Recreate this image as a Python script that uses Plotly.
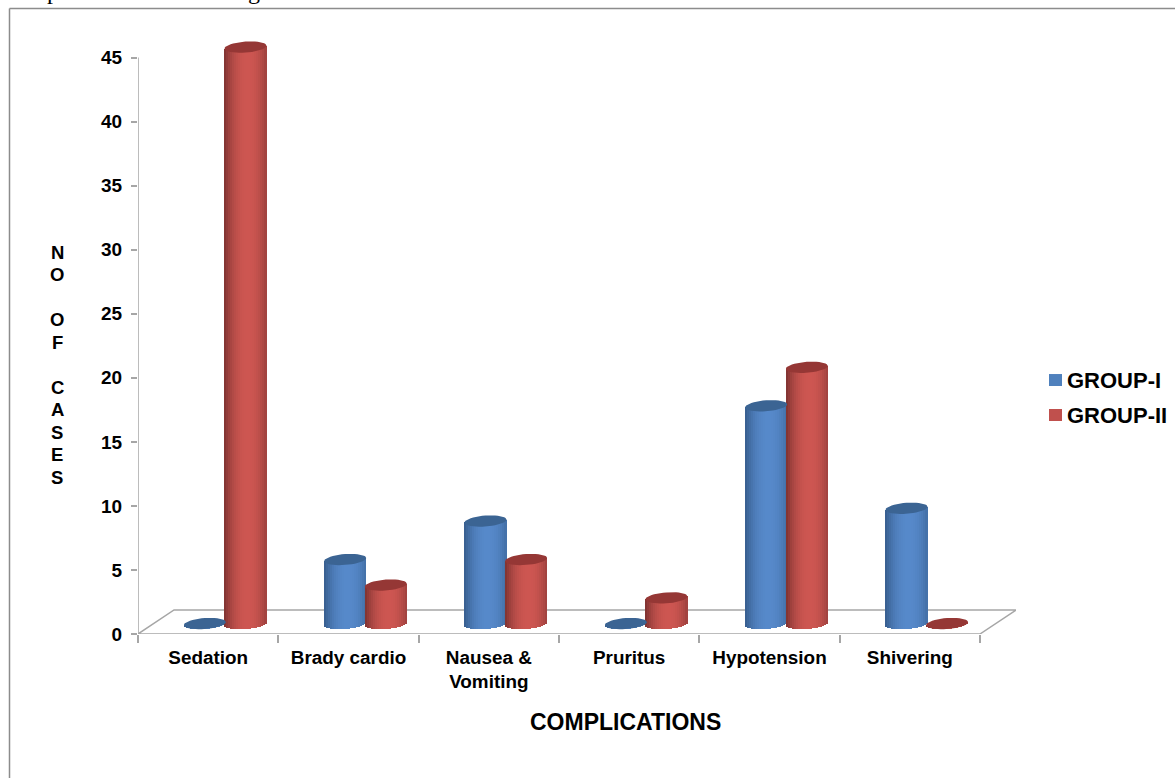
import math
import plotly.graph_objects as go

# Chart data
categories = ["Sedation", "Brady cardio", "Nausea &<br>Vomiting", "Pruritus", "Hypotension", "Shivering"]
group_1 = [0, 5, 8, 0, 17, 9]
group_2 = [45, 3, 5, 2, 20, 0]
y_ticks = [0, 5, 10, 15, 20, 25, 30, 35, 40, 45]
y_title = "NO OF CASES"

# Canvas and plot-area geometry (pixels)
W, H = 1175, 778
LEFT, RIGHT, BOTTOM = 138, 1016, 634
CAT_PX = 140.33
UNIT_PX = 12.81
Y_MAX = 47.0
TOP = BOTTOM - Y_MAX * UNIT_PX

# Cylinder geometry, in axis units
DEPTH_X = 17 / CAT_PX
GROUP_X = 20.3 / CAT_PX
RADIUS_X = 21 / CAT_PX
BASE_Y = 10.5 / UNIT_PX
RADIUS_Y = 5.5 / UNIT_PX
TILT_Y = 1.5 / UNIT_PX
STRIPS = 21

FONT = "Liberation Sans"
GRAY = "#a6a6a6"


def px(x):
    return (x - LEFT) / (RIGHT - LEFT)


def py(y):
    return (BOTTOM - y) / (BOTTOM - TOP)


def mix(dark, light, t):
    return "rgb(" + ",".join(str(round(d + (l - d) * t)) for d, l in zip(dark, light)) + ")"


def strip_traces(values, offset, dark, light):
    """Side wall of each cylinder, built from narrow shaded bars."""
    traces = []
    for k in range(STRIPS):
        u = -1 + (2 * k + 1) / STRIPS
        t = max(0.0, 1 - abs((u - 0.12) / 1.12) ** 2.2)
        lower = BASE_Y + TILT_Y * u - RADIUS_Y * math.sqrt(1 - u * u)
        upper = BASE_Y + TILT_Y * u
        traces.append(go.Bar(
            x=[i + 0.5 + DEPTH_X + offset + u * RADIUS_X for i in range(len(values))],
            y=[v + upper - lower for v in values],
            base=[lower] * len(values),
            width=2 * RADIUS_X / STRIPS * 1.04,
            marker=dict(color=mix(dark, light, t), line=dict(width=0)),
            showlegend=False,
            hoverinfo="skip",
        ))
    return traces


def cap_trace(values, offset, color, name):
    """Top ellipse of each cylinder."""
    xs, ys = [], []
    for i, v in enumerate(values):
        cx = i + 0.5 + DEPTH_X + offset
        cy = v + BASE_Y
        for a in range(41):
            th = 2 * math.pi * a / 40
            u = math.cos(th)
            xs.append(cx + RADIUS_X * u)
            ys.append(cy + TILT_Y * u + RADIUS_Y * math.sin(th))
        xs.append(None)
        ys.append(None)
    return go.Scatter(x=xs, y=ys, mode="lines", fill="toself", fillcolor=color,
                      line=dict(width=0, color=color), name=name,
                      showlegend=False, hoverinfo="skip", cliponaxis=False)


fig = go.Figure()
for tr in strip_traces(group_1, -GROUP_X, (54, 92, 140), (86, 137, 202)):
    fig.add_trace(tr)
fig.add_trace(cap_trace(group_1, -GROUP_X, "#3b6493", "GROUP-I"))
for tr in strip_traces(group_2, GROUP_X, (125, 50, 48), (205, 86, 81)):
    fig.add_trace(tr)
fig.add_trace(cap_trace(group_2, GROUP_X, "#953735", "GROUP-II"))

n = len(categories)
floor_dx = (RIGHT - LEFT) / CAT_PX - n
floor_dy = 24 / UNIT_PX
shapes = [
    # Outer frame
    dict(type="line", xref="paper", yref="paper", x0=px(9.5), x1=px(W + 5), y0=py(8.5), y1=py(8.5),
         line=dict(color="#8c8c8c", width=1.5)),
    dict(type="line", xref="paper", yref="paper", x0=px(9.5), x1=px(9.5), y0=py(8.5), y1=py(H + 5),
         line=dict(color="#8c8c8c", width=1.5)),
    # Floor of the 3-D plot
    dict(type="path", xref="x", yref="y", layer="below",
         path=f"M 0 0 L {n} 0 L {n + floor_dx} {floor_dy} L {floor_dx} {floor_dy} Z",
         line=dict(color=GRAY, width=1.5), fillcolor="rgba(0,0,0,0)"),
    # Value axis line
    dict(type="line", xref="x", yref="y", layer="below", x0=0, x1=0, y0=0, y1=y_ticks[-1],
         line=dict(color=GRAY, width=1.5)),
    # Legend swatches
    dict(type="rect", xref="paper", yref="paper", x0=px(1049), x1=px(1062), y0=py(374), y1=py(386),
         fillcolor="#4f81bd", line=dict(width=0)),
    dict(type="rect", xref="paper", yref="paper", x0=px(1049), x1=px(1062), y0=py(409), y1=py(421),
         fillcolor="#c0504d", line=dict(width=0)),
]


def label(text, x, y, size, xanchor="center", family=FONT, weight="bold"):
    return dict(text=text, xref="paper", yref="paper", x=px(x), y=py(y), xanchor=xanchor, yanchor="middle",
                showarrow=False, align="center",
                font=dict(family=family, size=size, color="black", weight=weight))


annotations = [
    label("COMPLICATIONS", 625.5, 722, 23),
    label("GROUP-I", 1065, 380, 22, "left"),
    label("GROUP-II", 1065, 415, 22, "left"),
    # Descenders of the line of body text running above the frame
    label("p", 53, -9, 24, family="Liberation Serif", weight="normal"),
    label("g", 254, -9, 24, family="Liberation Serif", weight="normal"),
]
# Vertical axis title, one stacked letter per row
for row, letter in enumerate(y_title):
    if letter != " ":
        annotations.append(label(letter, 57, 252 + 22.5 * row, 18.5))

fig.update_layout(
    width=W, height=H, template="none",
    margin=dict(l=LEFT, r=W - RIGHT, t=TOP, b=H - BOTTOM, pad=0, autoexpand=False),
    paper_bgcolor="white", plot_bgcolor="rgba(0,0,0,0)",
    barmode="overlay", bargap=0, showlegend=False,
    shapes=shapes, annotations=annotations,
    xaxis=dict(
        range=[0, (RIGHT - LEFT) / CAT_PX], showgrid=False, zeroline=False, showline=False,
        automargin=False, tickmode="array", tickvals=[i + 0.5 for i in range(n)], ticktext=categories,
        ticks="", ticklabelstandoff=10, tickangle=0,
        tickfont=dict(family=FONT, size=18.9, color="black", weight="bold"),
        minor=dict(tickmode="array", tickvals=list(range(n + 1)), ticks="outside", ticklen=8,
                   tickcolor=GRAY, tickwidth=1.5, showgrid=False),
    ),
    yaxis=dict(
        range=[0, Y_MAX], showgrid=False, zeroline=False, showline=False, automargin=False,
        tickmode="array", tickvals=y_ticks, ticks="outside", ticklen=6, tickcolor=GRAY, tickwidth=1.5,
        ticklabelstandoff=5,
        tickfont=dict(family=FONT, size=19, color="black", weight="bold"),
    ),
)

fig.write_html("out.html")
